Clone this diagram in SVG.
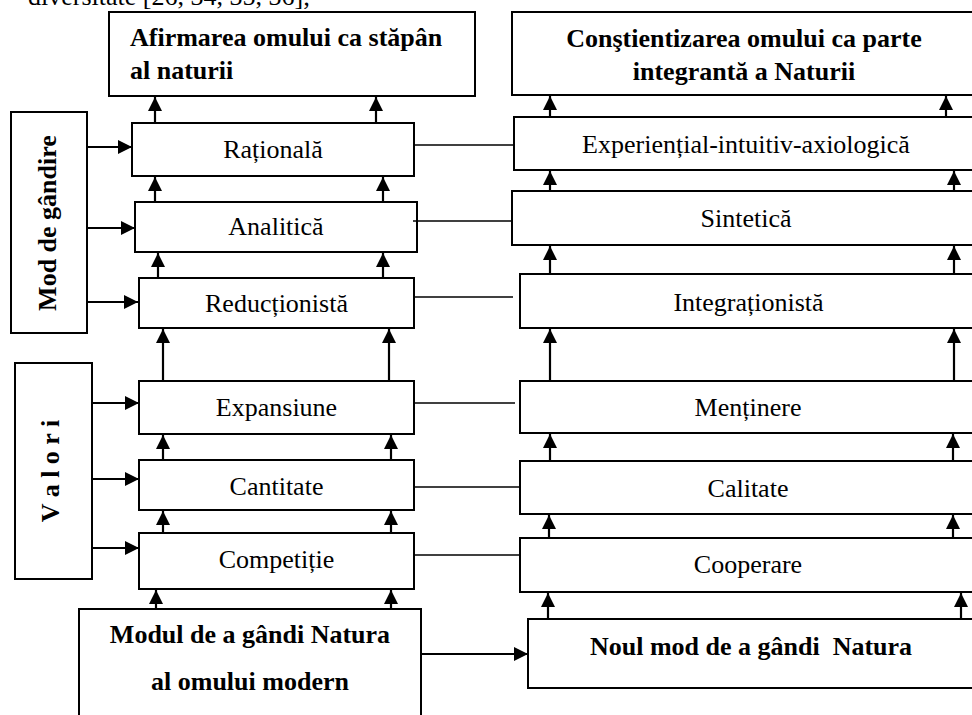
<svg xmlns="http://www.w3.org/2000/svg" width="972" height="715" viewBox="0 0 972 715">
<defs>
<marker id="ah" viewBox="0 0 14 14" refX="14" refY="7" markerWidth="14" markerHeight="14" markerUnits="userSpaceOnUse" orient="auto">
<path d="M0,0 L14,7 L0,14 Z" fill="#000"/>
</marker>
</defs>
<style>
.box{fill:#fff;stroke:#000;stroke-width:2}
.t{font-family:"Liberation Serif","Times New Roman",serif;font-size:26px;fill:#000;text-anchor:middle}
.b{font-weight:bold}
.arr{stroke:#000;stroke-width:2.2;fill:none;marker-end:url(#ah)}
.ln{stroke:#000;stroke-width:1.4;fill:none}
</style>
<rect width="972" height="715" fill="#fff"/>
<text x="28" y="5" class="t" style="text-anchor:start">diversitate [26, 34, 35, 36];</text>

<g id="afirmarea">
<rect class="box" x="109" y="12" width="366" height="84"/>
<text class="t b" x="130" y="46" style="text-anchor:start">Afirmarea omului ca stăpân</text>
<text class="t b" x="130" y="79" style="text-anchor:start">al naturii</text>
</g>
<g id="constientizarea">
<rect class="box" x="512" y="12" width="470" height="83"/>
<text class="t b" x="744" y="47">Conştientizarea omului ca parte</text>
<text class="t b" x="744" y="80">integrantă a Naturii</text>
</g>

<g id="mod-gandire">
<rect class="box" x="11" y="112" width="76" height="221"/>
<text class="t b" transform="translate(56,223) rotate(-90)">Mod de gândire</text>
</g>
<g id="valori">
<rect class="box" x="15" y="363" width="77" height="216"/>
<text class="t b" transform="translate(59,471) rotate(-90)">V a l o r i</text>
</g>

<g id="rationala">
<rect class="box" x="132" y="123" width="282" height="53"/>
<text class="t" x="273" y="158">Rațională</text>
</g>
<g id="analitica">
<rect class="box" x="135" y="202" width="282" height="50"/>
<text class="t" x="276" y="235">Analitică</text>
</g>
<g id="reductionista">
<rect class="box" x="139" y="278" width="275" height="50"/>
<text class="t" x="276.5" y="312">Reducționistă</text>
</g>
<g id="expansiune">
<rect class="box" x="139" y="381" width="275" height="53"/>
<text class="t" x="276.5" y="416">Expansiune</text>
</g>
<g id="cantitate">
<rect class="box" x="139" y="460" width="275" height="50"/>
<text class="t" x="276.5" y="495">Cantitate</text>
</g>
<g id="competitie">
<rect class="box" x="139" y="533" width="275" height="56"/>
<text class="t" x="276.5" y="568">Competiție</text>
</g>
<g id="modul">
<rect class="box" x="79" y="609" width="342" height="120"/>
<text class="t b" x="250" y="643">Modul de a gândi Natura</text>
<text class="t b" x="250" y="690">al omului modern</text>
</g>

<g id="experiential">
<rect class="box" x="514" y="117" width="470" height="53"/>
<text class="t" x="746" y="153">Experiențial-intuitiv-axiologică</text>
</g>
<g id="sintetica">
<rect class="box" x="512" y="191" width="472" height="54"/>
<text class="t" x="746" y="227">Sintetică</text>
</g>
<g id="integrationista">
<rect class="box" x="520" y="274" width="464" height="54"/>
<text class="t" x="748.5" y="311">Integraționistă</text>
</g>
<g id="mentinere">
<rect class="box" x="520" y="381" width="464" height="52"/>
<text class="t" x="748" y="416">Menținere</text>
</g>
<g id="calitate">
<rect class="box" x="520" y="461" width="464" height="53"/>
<text class="t" x="748" y="497">Calitate</text>
</g>
<g id="cooperare">
<rect class="box" x="520" y="538" width="464" height="54"/>
<text class="t" x="748" y="573">Cooperare</text>
</g>
<g id="noul">
<rect class="box" x="528" y="619" width="456" height="69"/>
<text class="t b" x="751" y="655" xml:space="preserve">Noul mod de a gândi  Natura</text>
</g>

<g id="connectors">
<line class="arr" x1="155" y1="123" x2="155" y2="97"/>
<line class="arr" x1="376" y1="123" x2="376" y2="97"/>
<line class="arr" x1="155" y1="202" x2="155" y2="177"/>
<line class="arr" x1="383" y1="202" x2="383" y2="177"/>
<line class="arr" x1="158" y1="278" x2="158" y2="253"/>
<line class="arr" x1="383" y1="278" x2="383" y2="253"/>
<line class="arr" x1="163" y1="381" x2="163" y2="329"/>
<line class="arr" x1="389" y1="381" x2="389" y2="329"/>
<line class="arr" x1="163" y1="460" x2="163" y2="435"/>
<line class="arr" x1="391" y1="460" x2="391" y2="435"/>
<line class="arr" x1="163" y1="533" x2="163" y2="511"/>
<line class="arr" x1="391" y1="533" x2="391" y2="511"/>
<line class="arr" x1="156" y1="609" x2="156" y2="590"/>
<line class="arr" x1="391" y1="609" x2="391" y2="590"/>
<line class="arr" x1="550" y1="117" x2="550" y2="96"/>
<line class="arr" x1="946" y1="117" x2="946" y2="96"/>
<line class="arr" x1="550" y1="191" x2="550" y2="171"/>
<line class="arr" x1="954" y1="191" x2="954" y2="171"/>
<line class="arr" x1="550" y1="274" x2="550" y2="246"/>
<line class="arr" x1="954" y1="274" x2="954" y2="246"/>
<line class="arr" x1="550" y1="381" x2="550" y2="329"/>
<line class="arr" x1="954" y1="381" x2="954" y2="329"/>
<line class="arr" x1="550" y1="461" x2="550" y2="434"/>
<line class="arr" x1="953" y1="461" x2="953" y2="434"/>
<line class="arr" x1="549" y1="538" x2="549" y2="515"/>
<line class="arr" x1="953" y1="538" x2="953" y2="515"/>
<line class="arr" x1="548" y1="619" x2="548" y2="593"/>
<line class="arr" x1="961" y1="619" x2="961" y2="593"/>
<line class="arr" x1="87" y1="147" x2="132" y2="147"/>
<line class="arr" x1="87" y1="228" x2="135" y2="228"/>
<line class="arr" x1="86" y1="302" x2="138" y2="302"/>
<line class="arr" x1="92" y1="403" x2="139" y2="403"/>
<line class="arr" x1="92" y1="479" x2="139" y2="479"/>
<line class="arr" x1="92" y1="548" x2="139" y2="548"/>
<line class="arr" x1="421" y1="654" x2="528" y2="654"/>
<line class="ln" x1="414" y1="145" x2="514" y2="145"/>
<line class="ln" x1="413" y1="221" x2="512" y2="221"/>
<line class="ln" x1="414" y1="297" x2="513" y2="297"/>
<line class="ln" x1="414" y1="403" x2="515" y2="403"/>
<line class="ln" x1="414" y1="487" x2="520" y2="487"/>
<line class="ln" x1="414" y1="555" x2="520" y2="555"/>
</g>
</svg>
